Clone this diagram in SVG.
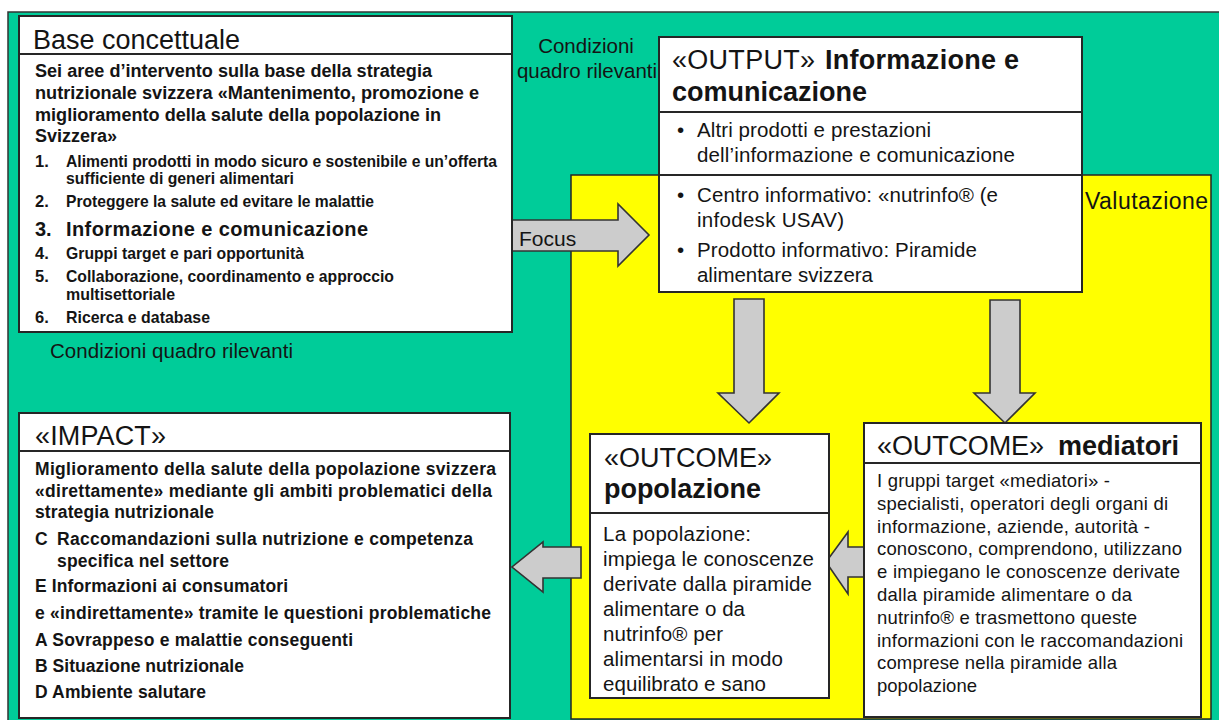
<svg xmlns="http://www.w3.org/2000/svg" width="1219" height="720" viewBox="0 0 1219 720">
  <style>
    text { font-family: "Liberation Sans", Arial, sans-serif; fill: #141414; }
    .title { font-size: 27px; }
    .b { font-weight: bold; }
    .lead { font-size: 18px; font-weight: bold; }
    .imp { font-size: 17.5px; font-weight: bold; }
    .item { font-size: 16.5px; font-weight: bold; }
    .body { font-size: 20.5px; }
    .med { font-size: 18.5px; }
    .note { font-size: 20.5px; }
    .box { fill: #ffffff; stroke: #262626; stroke-width: 2; }
    .sep { stroke: #262626; stroke-width: 2; }
    .arrow { fill: #cccccc; stroke: #333333; stroke-width: 1.6; stroke-linejoin: miter; }
  </style>

  <rect x="0" y="0" width="1219" height="720" fill="#ffffff"/>

  <!-- framework background -->
  <g id="framework">
    <rect x="8" y="12" width="1216" height="712" fill="#00cc99" stroke="#333333" stroke-width="1.5"/>
    <text class="note" x="586" y="53" text-anchor="middle">Condizioni</text>
    <text class="note" x="587" y="78" text-anchor="middle">quadro rilevanti</text>
    <text class="note" x="50" y="358" textLength="243" lengthAdjust="spacing">Condizioni quadro rilevanti</text>
  </g>

  <!-- evaluation area -->
  <g id="evaluation">
    <rect x="571" y="175" width="640" height="544" fill="#ffff00" stroke="#262626" stroke-width="1.5"/>
    <text x="1085" y="209" font-size="23" textLength="123" lengthAdjust="spacing">Valutazione</text>
  </g>

  <!-- connectors (block arrows) -->
  <g id="connectors">
    <polygon class="arrow" points="432,220 618,220 618,204 649,235 618,266 618,251 432,251"/>
    <text x="519" y="246" font-size="21">Focus</text>
    <polygon class="arrow" points="734,299 764,299 764,393 779,393 749,423 718,393 734,393"/>
    <polygon class="arrow" points="990,300 1020,300 1020,393 1035,393 1005,423 974,393 990,393"/>
    <polygon class="arrow" points="866,547 848,547 848,532 826,562 848,594 848,577 866,577"/>
    <polygon class="arrow" points="581,547 543,547 543,542 512,567 543,592 543,578 581,578"/>
  </g>

  <!-- conceptual basis -->
  <g id="base-concettuale">
    <rect class="box" x="19" y="16" width="493" height="316"/>
    <line class="sep" x1="19" y1="54" x2="512" y2="54"/>
    <text class="title" x="33" y="49" textLength="207" lengthAdjust="spacing">Base concettuale</text>
    <text class="lead" x="35" y="77" textLength="397" lengthAdjust="spacingAndGlyphs">Sei aree d’intervento sulla base della strategia</text>
    <text class="lead" x="35" y="99" textLength="444" lengthAdjust="spacingAndGlyphs">nutrizionale svizzera «Mantenimento, promozione e</text>
    <text class="lead" x="35" y="121" textLength="406" lengthAdjust="spacingAndGlyphs">miglioramento della salute della popolazione in</text>
    <text class="lead" x="35" y="142">Svizzera»</text>
    <text class="item" x="35" y="167">1.</text>
    <text class="item" x="66" y="167" textLength="431" lengthAdjust="spacingAndGlyphs">Alimenti prodotti in modo sicuro e sostenibile e un’offerta</text>
    <text class="item" x="66" y="184" textLength="228" lengthAdjust="spacingAndGlyphs">sufficiente di generi alimentari</text>
    <text class="item" x="35" y="207">2.</text>
    <text class="item" x="66" y="207" textLength="308" lengthAdjust="spacingAndGlyphs">Proteggere la salute ed evitare le malattie</text>
    <text x="35" y="236" font-size="20" font-weight="bold">3.</text>
    <text x="66" y="236" font-size="20" font-weight="bold" textLength="302" lengthAdjust="spacing">Informazione e comunicazione</text>
    <text class="item" x="35" y="259">4.</text>
    <text class="item" x="66" y="259" textLength="238" lengthAdjust="spacingAndGlyphs">Gruppi target e pari opportunità</text>
    <text class="item" x="35" y="282">5.</text>
    <text class="item" x="66" y="282" textLength="328" lengthAdjust="spacingAndGlyphs">Collaborazione, coordinamento e approccio</text>
    <text class="item" x="66" y="300" textLength="109" lengthAdjust="spacingAndGlyphs">multisettoriale</text>
    <text class="item" x="35" y="323">6.</text>
    <text class="item" x="66" y="323" textLength="144" lengthAdjust="spacingAndGlyphs">Ricerca e database</text>
  </g>

  <!-- output -->
  <g id="output">
    <rect class="box" x="659" y="37" width="423" height="255"/>
    <line class="sep" x1="659" y1="112" x2="1082" y2="112"/>
    <line class="sep" x1="659" y1="175" x2="1082" y2="175"/>
    <text class="title" x="672" y="69" textLength="143" lengthAdjust="spacing">«OUTPUT»</text>
    <text class="title b" x="825" y="69" textLength="194" lengthAdjust="spacing">Informazione e</text>
    <text class="title b" x="672" y="101" textLength="195" lengthAdjust="spacing">comunicazione</text>
    <text class="body" x="677" y="137">•</text>
    <text class="body" x="697" y="137" textLength="234" lengthAdjust="spacing">Altri prodotti e prestazioni</text>
    <text class="body" x="697" y="162" textLength="318" lengthAdjust="spacing">dell’informazione e comunicazione</text>
    <text class="body" x="677" y="202">•</text>
    <text class="body" x="697" y="202" textLength="301" lengthAdjust="spacing">Centro informativo: «nutrinfo® (e</text>
    <text class="body" x="697" y="227" textLength="147" lengthAdjust="spacing">infodesk USAV)</text>
    <text class="body" x="677" y="257">•</text>
    <text class="body" x="697" y="257" textLength="280" lengthAdjust="spacing">Prodotto informativo: Piramide</text>
    <text class="body" x="697" y="282" textLength="176" lengthAdjust="spacing">alimentare svizzera</text>
  </g>

  <!-- outcome: population -->
  <g id="outcome-popolazione">
    <rect class="box" x="590" y="434" width="239" height="264"/>
    <line class="sep" x1="590" y1="513" x2="829" y2="513"/>
    <text class="title" x="604" y="467" textLength="168" lengthAdjust="spacing">«OUTCOME»</text>
    <text class="title b" x="604" y="498" textLength="157" lengthAdjust="spacing">popolazione</text>
    <text class="body" x="603" y="541" textLength="148" lengthAdjust="spacing">La popolazione:</text>
    <text class="body" x="603" y="566" textLength="211" lengthAdjust="spacing">impiega le conoscenze</text>
    <text class="body" x="603" y="591" textLength="209" lengthAdjust="spacing">derivate dalla piramide</text>
    <text class="body" x="603" y="616" textLength="142" lengthAdjust="spacing">alimentare o da</text>
    <text class="body" x="603" y="641" textLength="120" lengthAdjust="spacing">nutrinfo® per</text>
    <text class="body" x="603" y="666" textLength="180" lengthAdjust="spacing">alimentarsi in modo</text>
    <text class="body" x="603" y="691" textLength="163" lengthAdjust="spacing">equilibrato e sano</text>
  </g>

  <!-- outcome: mediators -->
  <g id="outcome-mediatori">
    <rect class="box" x="864" y="423" width="337" height="294"/>
    <line class="sep" x1="864" y1="463" x2="1201" y2="463"/>
    <text class="title" x="877" y="455" textLength="167" lengthAdjust="spacing">«OUTCOME»</text>
    <text class="title b" x="1058" y="455" textLength="121" lengthAdjust="spacing">mediatori</text>
    <text class="med" x="877" y="487" textLength="233" lengthAdjust="spacing">I gruppi target «mediatori» -</text>
    <text class="med" x="877" y="510" textLength="291" lengthAdjust="spacing">specialisti, operatori degli organi di</text>
    <text class="med" x="877" y="533" textLength="273" lengthAdjust="spacing">informazione, aziende, autorità -</text>
    <text class="med" x="877" y="555" textLength="305" lengthAdjust="spacing">conoscono, comprendono, utilizzano</text>
    <text class="med" x="877" y="578" textLength="303" lengthAdjust="spacing">e impiegano le conoscenze derivate</text>
    <text class="med" x="877" y="601" textLength="255" lengthAdjust="spacing">dalla piramide alimentare o da</text>
    <text class="med" x="877" y="624" textLength="260" lengthAdjust="spacing">nutrinfo® e trasmettono queste</text>
    <text class="med" x="877" y="647" textLength="306" lengthAdjust="spacing">informazioni con le raccomandazioni</text>
    <text class="med" x="877" y="669" textLength="240" lengthAdjust="spacing">comprese nella piramide alla</text>
    <text class="med" x="877" y="692" textLength="100" lengthAdjust="spacing">popolazione</text>
  </g>

  <!-- impact -->
  <g id="impact">
    <rect class="box" x="19" y="413" width="491" height="305"/>
    <line class="sep" x1="19" y1="451" x2="510" y2="451"/>
    <text class="title" x="35" y="445" textLength="131" lengthAdjust="spacing">«IMPACT»</text>
    <text class="imp" x="35" y="475" textLength="461" lengthAdjust="spacing">Miglioramento della salute della popolazione svizzera</text>
    <text class="imp" x="35" y="497" textLength="457" lengthAdjust="spacing">«direttamente» mediante gli ambiti problematici della</text>
    <text class="imp" x="35" y="518" textLength="179" lengthAdjust="spacing">strategia nutrizionale</text>
    <text class="imp" x="35" y="545">C</text>
    <text class="imp" x="57" y="545" textLength="416" lengthAdjust="spacing">Raccomandazioni sulla nutrizione e competenza</text>
    <text class="imp" x="57" y="567" textLength="172" lengthAdjust="spacing">specifica nel settore</text>
    <text class="imp" x="35" y="592" textLength="253" lengthAdjust="spacing">E Informazioni ai consumatori</text>
    <text class="imp" x="35" y="619" textLength="456" lengthAdjust="spacing">e «indirettamente» tramite le questioni problematiche</text>
    <text class="imp" x="35" y="646" textLength="318" lengthAdjust="spacing">A Sovrappeso e malattie conseguenti</text>
    <text class="imp" x="35" y="672" textLength="209" lengthAdjust="spacing">B Situazione nutrizionale</text>
    <text class="imp" x="35" y="698" textLength="171" lengthAdjust="spacing">D Ambiente salutare</text>
  </g>
</svg>
